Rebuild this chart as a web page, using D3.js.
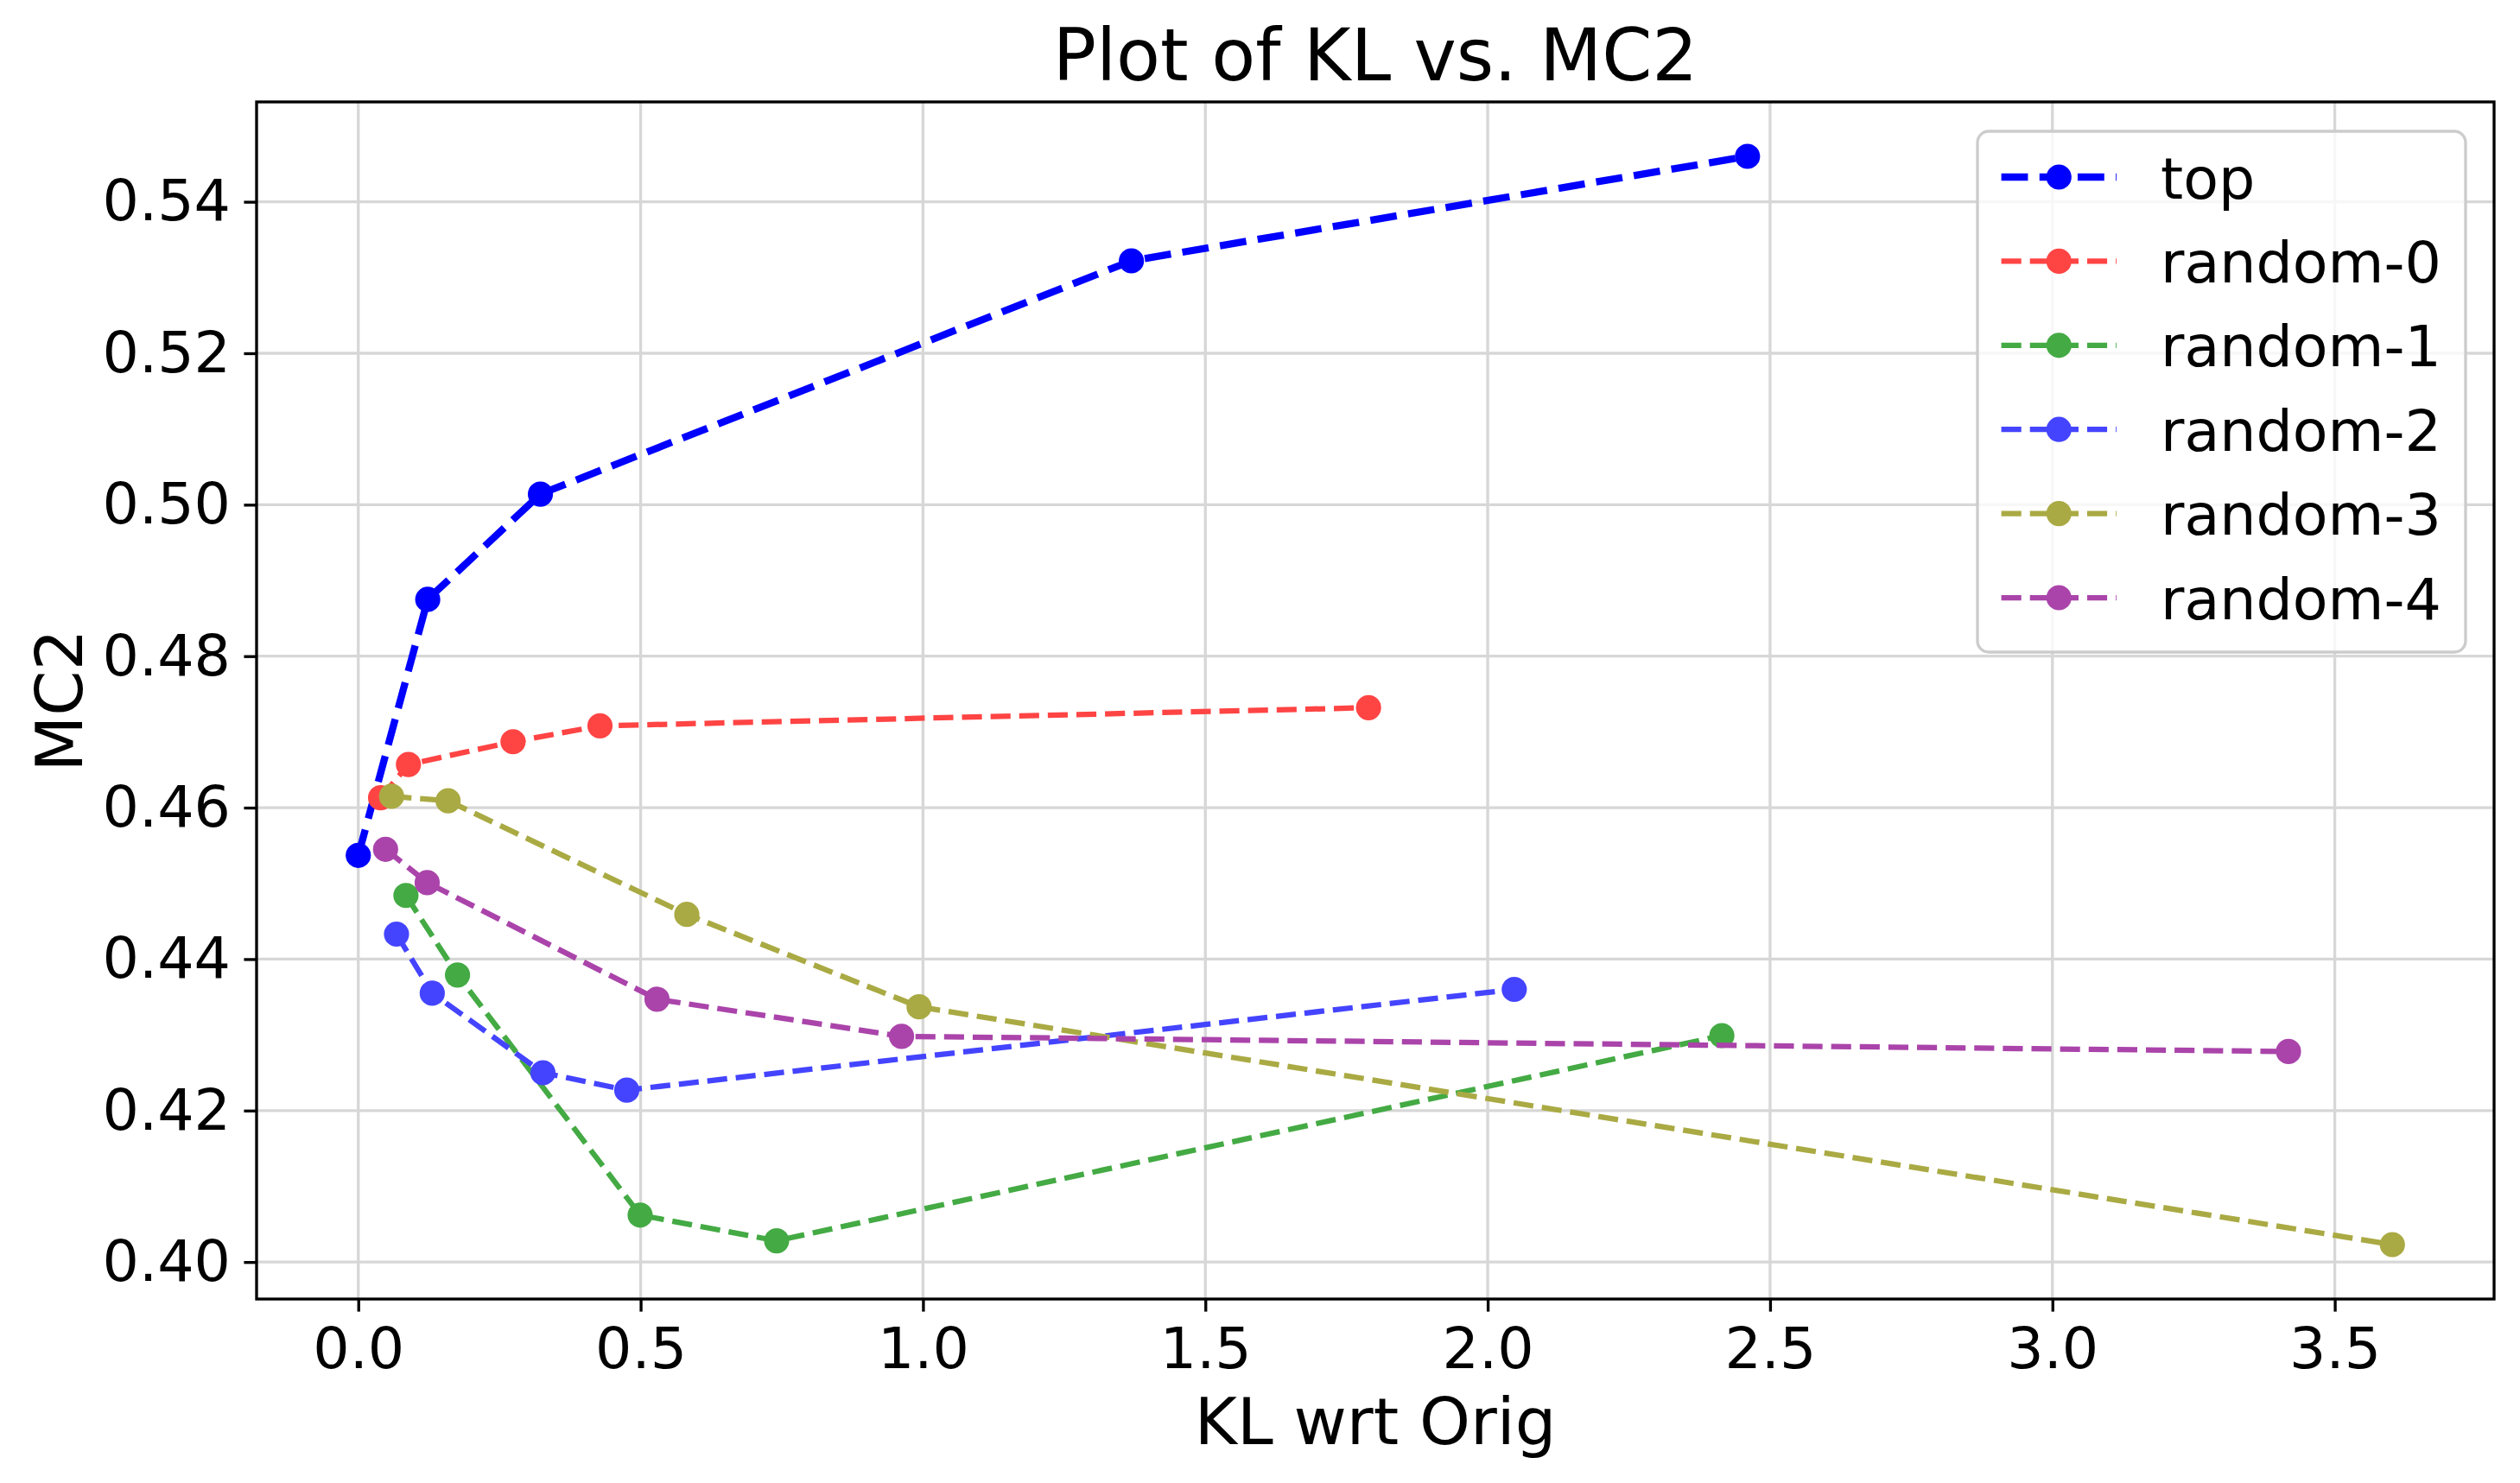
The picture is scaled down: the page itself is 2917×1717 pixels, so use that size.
<!DOCTYPE html>
<html>
<head>
<meta charset="utf-8">
<script src="https://cdn.jsdelivr.net/npm/d3@7/dist/d3.min.js"></script>
<style>
  body { margin: 0; background: #fff; }
  svg { display: block; font-family: "DejaVu Sans", sans-serif; }
</style>
</head>
<body>
<svg id="chart"></svg>
<script>
// values
const seriesNames = ["top", "random-0", "random-1", "random-2", "random-3", "random-4"];

const topKL  = [0, 0.123, 0.3225, 1.369, 2.460];
const topMC2 = [0.4537, 0.4875, 0.5014, 0.5322, 0.5460];

const random0KL  = [0.0395, 0.0888, 0.274, 0.428, 1.789];
const random0MC2 = [0.4613, 0.4657, 0.4687, 0.4708, 0.4732];

const random1KL  = [0.0844, 0.1757, 0.4991, 0.7408, 2.4146];
const random1MC2 = [0.4484, 0.4379, 0.4062, 0.4028, 0.4299];

const random2KL  = [0.0677, 0.131, 0.327, 0.4754, 2.047];
const random2MC2 = [0.4433, 0.4355, 0.4250, 0.4227, 0.4360];

const random3KL  = [0.0589, 0.159, 0.5817, 0.993, 3.602];
const random3MC2 = [0.4615, 0.4609, 0.4459, 0.4337, 0.4023];

const random4KL  = [0.0483, 0.122, 0.529, 0.962, 3.418];
const random4MC2 = [0.4545, 0.4501, 0.4347, 0.4298, 0.4278];

const xTicks = [0, 0.5, 1.0, 1.5, 2.0, 2.5, 3.0, 3.5];
const yTicks = [0.40, 0.42, 0.44, 0.46, 0.48, 0.50, 0.52, 0.54];

const titleText = "Plot of KL vs. MC2";
const xLabel = "KL wrt Orig";
const yLabel = "MC2";

// build series table
const klLists = [topKL, random0KL, random1KL, random2KL, random3KL, random4KL];
const mc2Lists = [topMC2, random0MC2, random1MC2, random2MC2, random3MC2, random4MC2];
const series = seriesNames.map((name, i) => ({
  name,
  points: klLists[i].map((k, j) => [k, mc2Lists[i][j]])
}));

// layout / style (pixels at 300 dpi: 1pt = 4.1667px)
const width = 2917;
const height = 1717;
const margin = { top: 118, right: 30, bottom: 213, left: 297 };
const pt = 300 / 72;

const color = d3.scaleOrdinal()
  .domain(seriesNames)
  .range(["#0000ff", "#ff4444", "#44aa44", "#4444ff", "#aaaa44", "#aa44aa"]);
const lineWidth = name => (name === "top" ? 2 : 1.5) * pt;
const dashes = name => `${3.7 * lineWidth(name)},${1.6 * lineWidth(name)}`;
const markerR = (6 * pt + 1 * pt) / 2;

const padExtent = ext => {
  const d = (ext[1] - ext[0]) * 0.05;
  return [ext[0] - d, ext[1] + d];
};

const allPoints = series.flatMap(s => s.points);

const x = d3.scaleLinear()
  .domain(padExtent(d3.extent(allPoints, d => d[0])))
  .range([margin.left, width - margin.right]);

const y = d3.scaleLinear()
  .domain(padExtent(d3.extent(allPoints, d => d[1])))
  .range([height - margin.bottom, margin.top]);

const svg = d3.select("#chart")
  .attr("width", width)
  .attr("height", height)
  .attr("viewBox", [0, 0, width, height]);

svg.append("rect")
  .attr("width", width)
  .attr("height", height)
  .attr("fill", "#fff");

// grid
const grid = svg.append("g")
  .attr("stroke", "#d7d7d7")
  .attr("stroke-width", 0.8 * pt);

grid.selectAll("line.gx")
  .data(xTicks)
  .join("line")
  .attr("class", "gx")
  .attr("x1", d => x(d))
  .attr("x2", d => x(d))
  .attr("y1", margin.top)
  .attr("y2", height - margin.bottom);

grid.selectAll("line.gy")
  .data(yTicks)
  .join("line")
  .attr("class", "gy")
  .attr("x1", margin.left)
  .attr("x2", width - margin.right)
  .attr("y1", d => y(d))
  .attr("y2", d => y(d));

// lines and markers
const line = d3.line()
  .x(d => x(d[0]))
  .y(d => y(d[1]));

series.forEach(s => {
  const g = svg.append("g");
  g.append("path")
    .datum(s.points)
    .attr("d", line)
    .attr("fill", "none")
    .attr("stroke", color(s.name))
    .attr("stroke-width", lineWidth(s.name))
    .attr("stroke-dasharray", dashes(s.name))
    .attr("stroke-linejoin", "round");
  g.selectAll("circle")
    .data(s.points)
    .join("circle")
    .attr("cx", d => x(d[0]))
    .attr("cy", d => y(d[1]))
    .attr("r", markerR)
    .attr("fill", color(s.name));
});

// axes
const tickLen = 3.5 * pt;

const xAxis = g => g
  .attr("transform", `translate(0,${height - margin.bottom})`)
  .call(d3.axisBottom(x)
    .tickValues(xTicks)
    .tickFormat(d3.format(".1f"))
    .tickSize(tickLen)
    .tickPadding(18.2));

const yAxis = g => g
  .attr("transform", `translate(${margin.left},0)`)
  .call(d3.axisLeft(y)
    .tickValues(yTicks)
    .tickFormat(d3.format(".2f"))
    .tickSize(tickLen)
    .tickPadding(15.4));

[xAxis, yAxis].forEach(axis => {
  const g = svg.append("g").call(axis);
  g.select(".domain").remove();
  g.attr("font-family", null).attr("font-size", null);
  g.selectAll(".tick line")
    .attr("stroke", "#000")
    .attr("stroke-width", 0.8 * pt);
  g.selectAll(".tick text")
    .attr("fill", "#000")
    .attr("font-size", 16 * pt);
});

// spines
svg.append("rect")
  .attr("x", margin.left)
  .attr("y", margin.top)
  .attr("width", width - margin.left - margin.right)
  .attr("height", height - margin.top - margin.bottom)
  .attr("fill", "none")
  .attr("stroke", "#000")
  .attr("stroke-width", 0.8 * pt);

// labels
const cx = (margin.left + width - margin.right) / 2;
const cy = (margin.top + height - margin.bottom) / 2;

svg.append("text")
  .attr("x", cx)
  .attr("y", 93)
  .attr("text-anchor", "middle")
  .attr("font-size", 20 * pt)
  .text(titleText);

svg.append("text")
  .attr("x", cx)
  .attr("y", 1672)
  .attr("text-anchor", "middle")
  .attr("font-size", 18 * pt)
  .text(xLabel);

svg.append("text")
  .attr("transform", `translate(95,${cy}) rotate(-90)`)
  .attr("text-anchor", "middle")
  .attr("font-size", 18 * pt)
  .text(yLabel);

// legend
const legend = svg.append("g");
const legendX = 2289, legendY = 152;
const rowH = 97.4, firstRow = 205;

legend.append("rect")
  .attr("x", legendX)
  .attr("y", legendY)
  .attr("width", 565)
  .attr("height", 603)
  .attr("rx", 13)
  .attr("fill", "#fff")
  .attr("fill-opacity", 0.8)
  .attr("stroke", "#cccccc")
  .attr("stroke-width", 0.8 * pt);

const item = legend.selectAll("g.item")
  .data(seriesNames)
  .join("g")
  .attr("class", "item")
  .attr("transform", (d, i) => `translate(0,${firstRow + i * rowH})`);

item.append("line")
  .attr("x1", 2316.6)
  .attr("x2", 2316.6 + 2 * 16 * pt)
  .attr("stroke", d => color(d))
  .attr("stroke-width", d => lineWidth(d))
  .attr("stroke-dasharray", d => dashes(d));

item.append("circle")
  .attr("cx", 2316.6 + 16 * pt)
  .attr("r", markerR)
  .attr("fill", d => color(d));

item.append("text")
  .attr("x", 2501)
  .attr("y", 24.5)
  .attr("font-size", 16 * pt)
  .text(d => d);
</script>
</body>
</html>
